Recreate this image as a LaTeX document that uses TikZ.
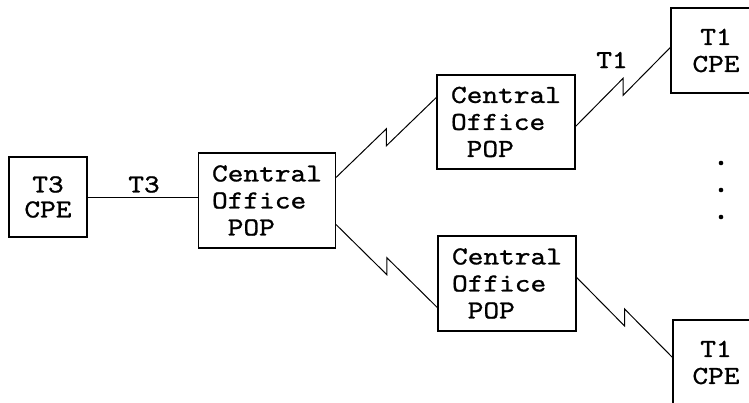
\documentclass[tikz,border=0pt]{standalone}
\usepackage{fontspec}
\setmonofont{lmmono10-regular}[Extension=.otf, FakeStretch=1.15, FakeBold=1]
\usetikzlibrary{calc}
\newcommand\cofont{\ttfamily\fontsize{26}{27}\selectfont}
\newcommand\cpefont{\ttfamily\fontsize{26}{25}\selectfont}
\begin{document}
\begin{tikzpicture}[x=1pt,y=-1pt,
  every node/.style={font=\cofont},
  box/.style={draw, line width=1.2pt, inner sep=0pt},
  cobox/.style={box, align=left, minimum width=137pt, minimum height=95pt},
  cpebox/.style={box, align=center, minimum height=85pt},
  ln/.style={line width=1pt},
  dot/.style={circle, fill, inner sep=0pt, minimum size=4.6pt},
  zig/.style={to path={-- ($(\tikztostart)!0.5!(\tikztotarget)+(0,#1)$) -- ($(\tikztostart)!0.5!(\tikztotarget)+(0,-#1)$) -- (\tikztotarget)}}
]
\useasboundingbox (0,0) rectangle (749,402);
\clip (0,0) rectangle (749,402);
% customer premises equipment
\node[box, align=center, minimum width=78pt, minimum height=80pt,
      font=\cpefont] (t3) at (48,197) {T3\\CPE};
\node[cpebox, minimum width=90pt] (t1a) at (716,50.5) {T1\\CPE};
\node[cpebox, minimum width=86pt] (t1b) at (716,362.5) {T1\\CPE};
% central offices
\node[cobox] (co1) at (267,200.5) {Central\\Office\\\hphantom{x}POP};
\node[cobox, minimum width=138pt, minimum height=94pt] (co2) at (506,122) {Central\\Office\\\hphantom{x}POP};
\node[cobox, minimum width=138pt] (co3) at (507,283.5) {Central\\Office\\\hphantom{x}POP};
% T3 link
\draw[ln] (t3.east) -- (t3.east -| co1.west);
\node (l3) at (144,184.5) {T3};
% lightning links
\draw[ln] ($(co1.north east)+(0,25)$) to[zig=-8.5] ($(co2.north west)+(0,23)$);
\draw[ln] ($(co1.south east)+(0,-24)$) to[zig=8.5] ($(co3.south west)+(0,-24)$);
\draw[ln] ($(co2.north east)+(0,52)$) to[zig=-8.5] ($(t1a.north west)+(0,40)$);
\draw[ln] ($(co3.north east)+(0,42)$) to[zig=8.5] ($(t1b.north west)+(0,38)$);
\node (l1) at (612,60) {T1};
% ellipsis
\node[dot] (d1) at (721,163) {};
\node[dot] (d2) at (721,190) {};
\node[dot] (d3) at (721,217) {};
\end{tikzpicture}
\end{document}
